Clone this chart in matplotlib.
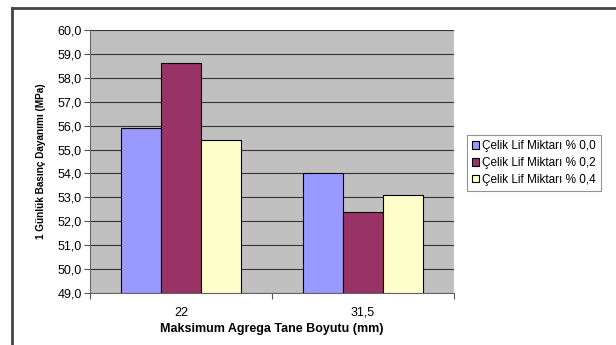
import numpy as np
import matplotlib
matplotlib.use("Agg")
import matplotlib.pyplot as plt
from matplotlib.lines import Line2D
import matplotlib.ticker as mticker

plt.rcParams['font.family'] = ['Liberation Sans', 'DejaVu Sans']

categories = ['22', '31,5']
series_names = ['Çelik Lif Miktarı % 0,0', 'Çelik Lif Miktarı % 0,2', 'Çelik Lif Miktarı % 0,4']
values = [
    [55.9, 54.0],   # % 0,0
    [58.6, 52.4],   # % 0,2
    [55.4, 53.1],   # % 0,4
]
colors = ['#9999FF', '#993366', '#FFFFCC']

fig = plt.figure(figsize=(6.16, 3.45), dpi=100)
ax = fig.add_axes([90 / 616, 1 - 293 / 345, 364 / 616, 263 / 345])
ax.set_facecolor('#C0C0C0')

x = np.arange(len(categories))
w = 0.22
for i, (name, vals, c) in enumerate(zip(series_names, values, colors)):
    ax.bar(x + (i - 1) * w, np.array(vals) - 49, bottom=49, width=w, color=c,
           edgecolor='black', linewidth=0.8, label=name, zorder=3)

ax.set_xlim(-0.5, 1.5)
ax.set_ylim(49, 60)
ax.set_yticks(np.arange(49, 60.01, 1))
ax.yaxis.set_major_formatter(mticker.FuncFormatter(lambda v, p: f"{v:.1f}".replace('.', ',')))
ax.grid(axis='y', color='#333333', linewidth=0.8, zorder=0)
ax.set_axisbelow(True)

ax.set_xticks(x)
ax.set_xticklabels(categories)
ax.set_xticks([-0.5, 0.5, 1.5], minor=True)
ax.tick_params(axis='x', which='major', length=0, pad=10, labelsize=9)
ax.tick_params(axis='x', which='minor', length=4, width=0.8, color='#555555')
ax.tick_params(axis='y', length=4, width=0.8, color='#555555', labelsize=9, pad=2)

for s in ['top', 'right']:
    ax.spines[s].set_visible(False)
ax.spines['left'].set_color('#666666')
ax.spines['bottom'].set_color('#666666')

ax.set_xlabel('Maksimum Agrega Tane Boyutu (mm)', fontsize=9, fontweight='bold', labelpad=3)
ax.set_ylabel('1 Günlük Basınç Dayanımı (MPa)', fontsize=7.2, fontweight='bold', labelpad=8)

leg = ax.legend(loc='center left', bbox_to_anchor=(467 / 616, 1 - 163 / 345),
                bbox_transform=fig.transFigure, fontsize=8.5, frameon=True, fancybox=False,
                handlelength=0.6, handleheight=0.6, handletextpad=0.2, borderpad=0.45,
                labelspacing=0.4, edgecolor='#777777', borderaxespad=0)
leg.get_frame().set_linewidth(0.8)

# outer chart frame (top and left edges)
fig.add_artist(Line2D([11.5 / 616, 1], [1 - 7.5 / 345, 1 - 7.5 / 345],
                      transform=fig.transFigure, color='#444444', linewidth=2))
fig.add_artist(Line2D([11.5 / 616, 11.5 / 616], [0, 1 - 7.5 / 345],
                      transform=fig.transFigure, color='#444444', linewidth=2))

fig.savefig('out.png', dpi=100)
